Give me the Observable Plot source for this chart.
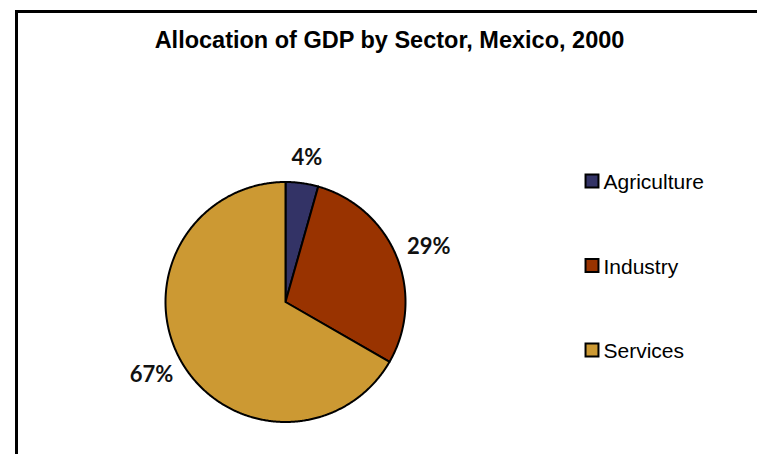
<!DOCTYPE html>
<html>
<head>
<meta charset="utf-8">
<script src="https://cdn.jsdelivr.net/npm/d3@7"></script>
<script src="https://cdn.jsdelivr.net/npm/@observablehq/plot@0.6"></script>
<style>
  html, body { margin: 0; padding: 0; background: #fff; }
  #wrap { position: relative; width: 757px; height: 454px; overflow: hidden; }
  #chart svg { display: block; }
  #chart { position: absolute; left: 0; top: 0; }
  .bl { position: absolute; background: #000; pointer-events: none; }
  #bt { left: 15px; top: 10px; width: 742px; height: 2.5px; }
  #bv { left: 15px; top: 10px; width: 2.5px; height: 444px; }
</style>
</head>
<body>
<div id="wrap"><div id="chart"></div><div id="bt" class="bl"></div><div id="bv" class="bl"></div></div>
<script>
const title = "Allocation of GDP by Sector, Mexico, 2000";
const sectors = ["Agriculture", "Industry", "Services"];
const shares = [4.4, 28.9, 66.7];
const labels = ["4%", "29%", "67%"];
const colors = ["#333366", "#993300", "#CC9933"];

// layout (pixels)
const W = 757, H = 454, CX = 285, CY = 301.5, R = 120;

const pie = d3.pie().sort(null).value(d => d.share)(sectors.map((s, i) => ({sector: s, share: shares[i], label: labels[i]})));

// slice outlines in unit (radius = 1) coordinates; angle measured clockwise from 12 o'clock
const slicePts = [];
pie.forEach(p => {
  const s = p.data.sector;
  slicePts.push({sector: s, x: 0, y: 0});
  const n = Math.max(2, Math.ceil((p.endAngle - p.startAngle) / (Math.PI / 360)));
  for (let k = 0; k <= n; k++) {
    const a = p.startAngle + (p.endAngle - p.startAngle) * k / n;
    slicePts.push({sector: s, x: Math.sin(a), y: Math.cos(a)});
  }
  slicePts.push({sector: s, x: 0, y: 0});
});

const labelPts = pie.map(p => {
  const a = (p.startAngle + p.endAngle) / 2;
  const dx = Math.sin(a), dy = Math.cos(a);
  return {label: p.data.label, x: dx * 1.1 + dx * 0.19, y: dy * 1.1 + dy * 0.11};
});

const legendMarks = sectors.flatMap((s, i) => [
  Plot.dot([s], {frameAnchor: "top-left", dx: 591.5, dy: 180.5 + i * 84.5, symbol: "square", r: 7.3,
    fill: colors[i], stroke: "black", strokeWidth: 2}),
  Plot.text([s], {frameAnchor: "top-left", dx: 603, dy: 182 + i * 84.5, text: d => d, textAnchor: "start",
    lineAnchor: "middle", fontSize: 21, fill: "black", fontFamily: "Liberation Sans, Arial, sans-serif"})
]);

const chart = Plot.plot({
  width: W, height: H,
  margin: 0,
  style: {fontFamily: "Liberation Sans, Arial, sans-serif", background: "white"},
  x: {domain: [-CX / R, (W - CX) / R], range: [0, W], axis: null},
  y: {domain: [-(H - CY) / R, CY / R], range: [H, 0], axis: null},
  color: {domain: sectors, range: colors, type: "ordinal"},
  marks: [
    Plot.line(slicePts, {x: "x", y: "y", z: "sector", fill: "sector", stroke: "black", strokeWidth: 2,
      strokeLinejoin: "round", curve: "linear"}),
    Plot.text(labelPts, {x: "x", y: "y", text: "label", fontSize: 22, fontWeight: "bold",
      fontFamily: "Lato, 'Open Sans', sans-serif", fill: "#111", lineAnchor: "middle"}),
    Plot.text([title], {frameAnchor: "top", dx: 10.5, dy: 40, text: d => d, fontSize: 23.5, fontWeight: "bold",
      lineAnchor: "middle", fill: "black", fontFamily: "Liberation Sans, Arial, sans-serif"}),
    ...legendMarks
  ]
});
document.getElementById("chart").appendChild(chart);
</script>
</body>
</html>
